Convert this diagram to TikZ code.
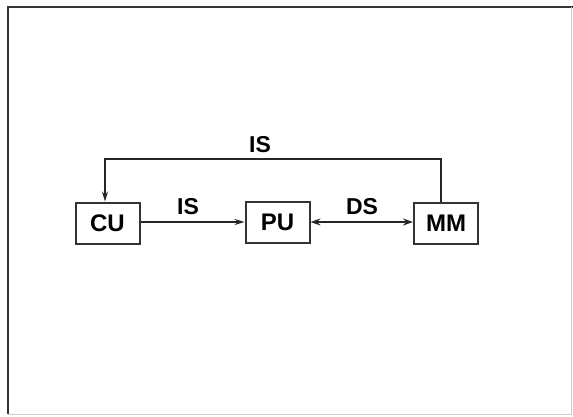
\documentclass[tikz,border=0pt]{standalone}
\usepackage{fontspec}
\setmainfont{Liberation Sans}
\usetikzlibrary{arrows.meta}
\begin{document}
\begin{tikzpicture}[x=1pt,y=-1pt,
  unit/.style={draw=black!80,line width=2pt,minimum width=64pt,minimum height=41pt,inner sep=0pt,font=\fontsize{24}{26}\selectfont\bfseries},
  lbl/.style={font=\fontsize{23}{26}\selectfont\bfseries,inner sep=0pt},
  conn/.style={draw=black!85,line width=1.6pt},
  tip/.style={-{Stealth[length=10pt,width=6pt]}}
]
\useasboundingbox (0,0) rectangle (573,416);
\draw[black!80,line width=2.2pt] (8,414) -- (8,7) -- (573,7);
\draw[black!20,line width=1pt] (8,414) -- (571,414) -- (571,7);
\node[unit] (cu) at (107.5,223) {CU};
\node[unit] (pu) at (277.5,222) {PU};
\node[unit] (mm) at (446,223) {MM};
\draw[conn,tip] (cu.east |- pu) -- (pu.west);
\draw[conn,line width=2.8pt,{Stealth[length=10pt,width=7pt]}-{Stealth[length=10pt,width=7pt]}] (pu.east) -- (mm.west |- pu);
\coordinate (tl) at (105,159);
\coordinate (tr) at (441,159);
\draw[conn,tip] (mm.north -| tr) -- (tr) -- (tl) -- (cu.north -| tl);
\node[lbl] (is1) at (260,145) {IS};
\node[lbl] (is2) at (188,207) {IS};
\node[lbl] (ds) at (362,207) {DS};
\end{tikzpicture}
\end{document}
